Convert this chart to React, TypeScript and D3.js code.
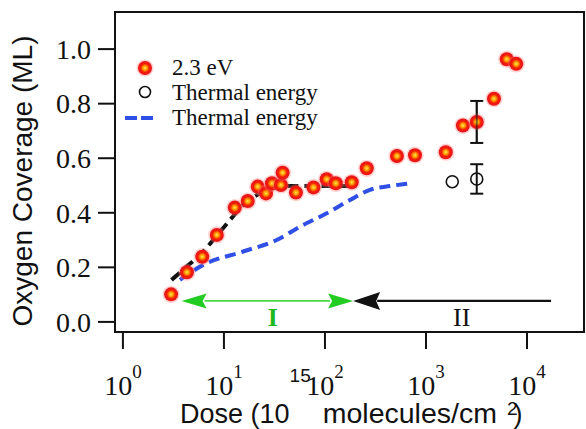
import React from "react";
import * as d3 from "d3";

const W = 586;
const H = 429;
const FRAME = { left: 115, right: 585, top: 12, bottom: 332 };

// 2.3 eV photon-assisted uptake
const doseLaser = [3.0, 4.3, 6.1, 8.5, 12.8, 17.2, 21.6, 26.1, 29.9, 36.7, 38.1, 51.6, 77, 104, 128, 184, 259, 516, 778, 1570, 2320, 3180, 4710, 6300, 7830];
const coverageLaser = [0.101, 0.182, 0.239, 0.319, 0.419, 0.443, 0.496, 0.471, 0.508, 0.502, 0.547, 0.474, 0.493, 0.523, 0.508, 0.512, 0.563, 0.608, 0.611, 0.622, 0.72, 0.733, 0.818, 0.963, 0.946];
const errLaser = [0, 0, 0, 0, 0, 0, 0, 0, 0, 0, 0, 0, 0, 0, 0, 0, 0, 0, 0, 0, 0, 0.077, 0, 0, 0];

// thermal-energy points
const doseThermal = [1820, 3180];
const coverageThermal = [0.514, 0.524];
const errThermal = [0, 0.054];

// fit through the 2.3 eV data (region I)
const fitDose = [3.03, 4.11, 6.01, 7.83, 11.5, 16.1, 22.7, 30.8, 41.8, 190];
const fitCoverage = [0.154, 0.197, 0.252, 0.3, 0.374, 0.435, 0.471, 0.49, 0.498, 0.498];

// thermal-energy uptake curve
const thermalCurveDose = [3.67, 6.24, 15.5, 33.2, 56.5, 104, 177, 279, 440, 722];
const thermalCurveCoverage = [0.154, 0.209, 0.258, 0.3, 0.349, 0.398, 0.447, 0.484, 0.498, 0.508];

const xTicks = [1, 10, 100, 1000, 10000];
const xTickExponents = ["0", "1", "2", "3", "4"];
const yTicks = [0, 0.2, 0.4, 0.6, 0.8, 1.0];
const yTickLabels = ["0.0", "0.2", "0.4", "0.6", "0.8", "1.0"];

// dose regions I and II
const regionBoundary = 190;
const regionIStart = 3.81;
const regionIIEnd = 17300;
const regionArrowLevel = 0.077;
const regionLabelLevel = 0.019;
const regionILabelDose = 30.5;
const regionIILabelDose = 2256;

const SERIF = "'Liberation Serif', 'Times New Roman', serif";
const SANS = "'Liberation Sans', Arial, sans-serif";

export default function App() {
  const x = d3.scaleLog().domain([0.835, 37500]).range([FRAME.left, FRAME.right]);
  const y = d3.scaleLinear().domain([-0.037, 1.136]).range([FRAME.bottom, FRAME.top]);

  const line = d3
    .line<[number, number]>()
    .x((d) => x(d[0]))
    .y((d) => y(d[1]))
    .curve(d3.curveMonotoneX);

  const fitPath = line(fitDose.map((d, i) => [d, fitCoverage[i]] as [number, number])) || "";
  const thermalPath = line(thermalCurveDose.map((d, i) => [d, thermalCurveCoverage[i]] as [number, number])) || "";

  const ay = y(regionArrowLevel);
  const gL = x(regionIStart);
  const gR = x(regionBoundary);
  const bR = x(regionIIEnd);
  const headG = 25;
  const headGH = 7.5;
  const headB = 27;
  const headBH = 9;

  const dot = (cx: number, cy: number, key: string) => (
    <g key={key}>
      <circle cx={cx} cy={cy} r={8.6} fill="#ff7a7a" opacity={0.35} />
      <circle cx={cx} cy={cy} r={7} fill="url(#dotFill)" />
    </g>
  );

  return (
    <svg
      width={W}
      height={H}
      style={{ position: "absolute", left: 0, top: 0, background: "#fff" }}
    >
      <defs>
        <radialGradient id="dotFill" cx="50%" cy="50%" r="50%">
          <stop offset="0%" stopColor="#ffe85a" />
          <stop offset="30%" stopColor="#ffa000" />
          <stop offset="62%" stopColor="#f21c08" />
          <stop offset="100%" stopColor="#e8141c" />
        </radialGradient>
      </defs>

      {/* y axis ticks and labels */}
      {yTicks.map((t, i) => (
        <g key={"yt" + i}>
          <line x1={FRAME.left - 17} x2={FRAME.left} y1={y(t)} y2={y(t)} stroke="#111" strokeWidth={2} />
          <text
            x={FRAME.left - 24}
            y={y(t)}
            dy="0.35em"
            textAnchor="end"
            fontFamily={SERIF}
            fontSize={28}
            fill="#111"
          >
            {yTickLabels[i]}
          </text>
        </g>
      ))}

      {/* x axis ticks and labels */}
      {xTicks.map((t, i) => (
        <g key={"xt" + i}>
          <line x1={x(t)} x2={x(t)} y1={FRAME.bottom} y2={FRAME.bottom + 17} stroke="#111" strokeWidth={2} />
          <text x={x(t)} y={395} textAnchor="middle" fontFamily={SERIF} fill="#111">
            <tspan fontSize={28}>10</tspan>
            <tspan fontSize={19} dy={-17}>{xTickExponents[i]}</tspan>
          </text>
        </g>
      ))}

      {/* axis titles */}
      <text x={180} y={423} fontFamily={SANS} fontSize={27} fill="#111">
        <tspan>Dose (10</tspan>
        <tspan fontSize={19} dy={-41}>15</tspan>
        <tspan dy={41} dx={12} fontSize={28.5}>molecules/cm</tspan>
        <tspan fontSize={19} dx={10} dy={-8}>2</tspan>
        <tspan dx={-4} dy={8}>)</tspan>
      </text>
      <text
        transform={`translate(32, ${(FRAME.top + FRAME.bottom) / 2 + 9}) rotate(-90)`}
        textAnchor="middle"
        fontFamily={SANS}
        fontSize={28}
        fill="#111"
      >
        Oxygen Coverage (ML)
      </text>

      {/* region arrows */}
      <line x1={gL + headG - 2} x2={gR - headG + 2} y1={ay} y2={ay} stroke="#4ad84a" strokeWidth={1.6} />
      <polygon
        points={`${gL},${ay} ${gL + headG},${ay - headGH} ${gL + headG - 4},${ay} ${gL + headG},${ay + headGH}`}
        fill="#22cc22"
      />
      <polygon
        points={`${gR},${ay} ${gR - headG},${ay - headGH} ${gR - headG + 4},${ay} ${gR - headG},${ay + headGH}`}
        fill="#22cc22"
      />
      <line x1={gR + headB - 3} x2={bR} y1={ay} y2={ay} stroke="#111" strokeWidth={2.2} />
      <polygon
        points={`${gR},${ay} ${gR + headB},${ay - headBH} ${gR + headB - 4},${ay} ${gR + headB},${ay + headBH}`}
        fill="#111"
      />
      <text
        x={x(regionILabelDose)}
        y={y(regionLabelLevel)}
        dy="0.35em"
        textAnchor="middle"
        fontFamily={SERIF}
        fontWeight="bold"
        fontSize={26}
        fill="#1fb81f"
      >
        I
      </text>
      <text
        x={x(regionIILabelDose)}
        y={y(regionLabelLevel)}
        dy="0.35em"
        textAnchor="middle"
        fontFamily={SERIF}
        fontSize={26}
        fill="#111"
      >
        II
      </text>

      {/* curves */}
      <path d={thermalPath} fill="none" stroke="#2f4fe6" strokeWidth={4} strokeDasharray="11 6" />
      <path d={fitPath} fill="none" stroke="#111" strokeWidth={4} strokeDasharray="11 6" />

      {/* error bars */}
      {doseLaser.map((d, i) =>
        errLaser[i] > 0 ? (
          <g key={"el" + i} stroke="#111" strokeWidth={2}>
            <line x1={x(d)} x2={x(d)} y1={y(coverageLaser[i] - errLaser[i])} y2={y(coverageLaser[i] + errLaser[i])} />
            <line x1={x(d) - 6.5} x2={x(d) + 6.5} y1={y(coverageLaser[i] - errLaser[i])} y2={y(coverageLaser[i] - errLaser[i])} />
            <line x1={x(d) - 6.5} x2={x(d) + 6.5} y1={y(coverageLaser[i] + errLaser[i])} y2={y(coverageLaser[i] + errLaser[i])} />
          </g>
        ) : null
      )}

      {/* 2.3 eV markers */}
      {doseLaser.map((d, i) => dot(x(d), y(coverageLaser[i]), "p" + i))}

      {/* redraw the bar over the marker it runs through */}
      {doseLaser.map((d, i) =>
        errLaser[i] > 0 ? (
          <line
            key={"eo" + i}
            x1={x(d)}
            x2={x(d)}
            y1={y(coverageLaser[i] - errLaser[i])}
            y2={y(coverageLaser[i] + errLaser[i])}
            stroke="#111"
            strokeWidth={2}
            opacity={0.55}
          />
        ) : null
      )}

      {/* thermal markers */}
      {doseThermal.map((d, i) => (
        <g key={"t" + i} stroke="#111" strokeWidth={2} fill="none">
          {errThermal[i] > 0 ? (
            <>
              <line x1={x(d)} x2={x(d)} y1={y(coverageThermal[i] - errThermal[i])} y2={y(coverageThermal[i] + errThermal[i])} />
              <line x1={x(d) - 6.5} x2={x(d) + 6.5} y1={y(coverageThermal[i] - errThermal[i])} y2={y(coverageThermal[i] - errThermal[i])} />
              <line x1={x(d) - 6.5} x2={x(d) + 6.5} y1={y(coverageThermal[i] + errThermal[i])} y2={y(coverageThermal[i] + errThermal[i])} />
            </>
          ) : null}
          <circle cx={x(d)} cy={y(coverageThermal[i])} r={6} strokeWidth={1.6} />
        </g>
      ))}

      {/* legend */}
      {dot(145, 68, "lg")}
      <text x={172} y={75} fontFamily={SERIF} fontSize={23} fill="#111">2.3 eV</text>
      <circle cx={145} cy={92} r={5.5} fill="none" stroke="#111" strokeWidth={1.6} />
      <text x={172} y={100} fontFamily={SERIF} fontSize={23} fill="#111">Thermal energy</text>
      <line x1={125} x2={153} y1={118} y2={118} stroke="#2f4fe6" strokeWidth={4} strokeDasharray="12 4" />
      <text x={172} y={125} fontFamily={SERIF} fontSize={23} fill="#111">Thermal energy</text>

      {/* frame */}
      <rect
        x={FRAME.left}
        y={FRAME.top}
        width={FRAME.right - FRAME.left - 1}
        height={FRAME.bottom - FRAME.top}
        fill="none"
        stroke="#111"
        strokeWidth={2}
      />
    </svg>
  );
}
